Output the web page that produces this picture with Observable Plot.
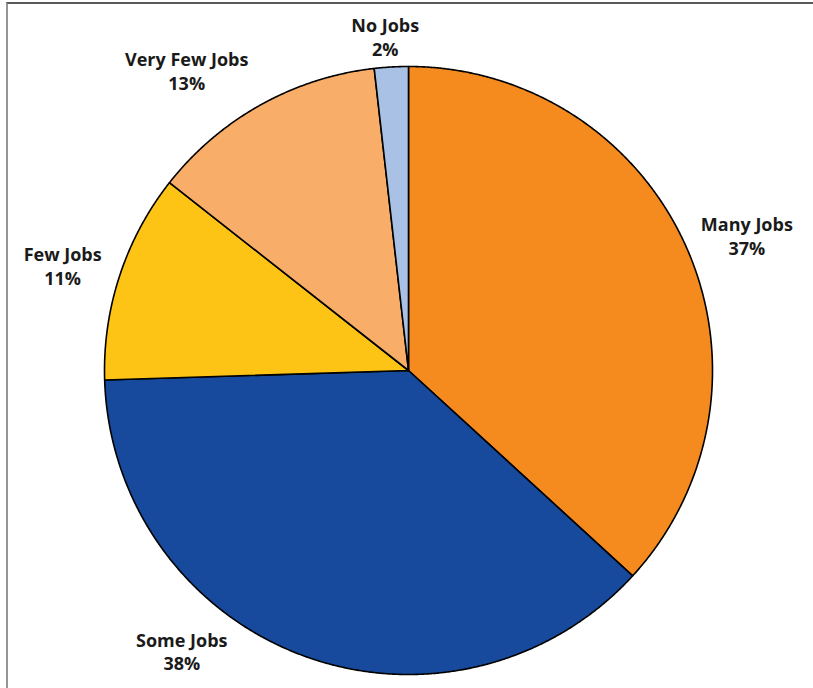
<!DOCTYPE html>
<html>
<head>
<meta charset="utf-8">
<script src="https://cdn.jsdelivr.net/npm/d3@7"></script>
<script src="https://cdn.jsdelivr.net/npm/@observablehq/plot@0.6"></script>
<style>
  html, body { margin: 0; padding: 0; background: #fff; }
  #wrap { position: relative; width: 813px; height: 688px; overflow: hidden; }
  #frame { position: absolute; left: 6px; top: 2px; width: 1000px; height: 1000px;
           border-top: 2px solid #5a5a5a; border-left: 2px solid #969696; pointer-events: none; }
  #chart { position: absolute; left: 0; top: 0; }
</style>
</head>
<body>
<div id="wrap"><div id="chart"></div><div id="frame"></div></div>
<script>
// ---- data (clockwise from 12 o'clock) ----
const categories = ["Many Jobs", "Some Jobs", "Few Jobs", "Very Few Jobs", "No Jobs"];
const values = [36.8, 37.7, 11.1, 12.6, 1.8];
const percentLabels = ["37%", "38%", "11%", "13%", "2%"];
const colors = ["#F58A1F", "#174A9C", "#FDC315", "#F8AE68", "#A8C1E5"];

// ---- layout ----
const W = 813, H = 688;
const cx = 408, cy = 370, R = 304;          // pie centre / radius in pixels
const labelRadius = 1.18;                    // label base radius (fraction of R)
const labelNudge = [[10, 9], [-102, -56], [-5, 7], [-47, 13], [-3, 24]]; // px

const arcs = d3.pie().sort(null).value(d => d)(values);

// polygon rows for each slice
const rows = [];
arcs.forEach((a, i) => {
  const cat = categories[i];
  rows.push({cat, x: 0, y: 0});
  const n = Math.max(2, Math.ceil((a.endAngle - a.startAngle) / (Math.PI / 720)));
  for (let k = 0; k <= n; k++) {
    const t = a.startAngle + (a.endAngle - a.startAngle) * k / n;
    rows.push({cat, x: Math.sin(t), y: Math.cos(t)});
  }
  rows.push({cat, x: 0, y: 0});
});

const labels = arcs.map((a, i) => {
  const m = (a.startAngle + a.endAngle) / 2;
  return {text: categories[i] + "\n" + percentLabels[i],
          x: labelRadius * Math.sin(m), y: labelRadius * Math.cos(m)};
});

const textMarks = labels.map((d, i) => Plot.text([d], {
  x: "x", y: "y", text: "text",
  dx: labelNudge[i][0], dy: labelNudge[i][1],
  fontSize: 18, fontWeight: 700, fontFamily: "'Open Sans', 'Noto Sans', sans-serif",
  fill: "#1a1a1a", lineHeight: 1.33, textAnchor: "middle", lineAnchor: "middle"
}));

const chart = Plot.plot({
  width: W, height: H, margin: 0,
  x: {domain: [-cx / R, (W - cx) / R], axis: null},
  y: {domain: [-(H - cy) / R, cy / R], axis: null},
  color: {domain: categories, range: colors},
  marks: [
    Plot.line(rows, {x: "x", y: "y", z: "cat", fill: "cat", stroke: "#000",
                     strokeWidth: 1.6, strokeLinejoin: "round", curve: "linear"}),
    ...textMarks
  ]
});
document.getElementById("chart").appendChild(chart);
</script>
</body>
</html>
